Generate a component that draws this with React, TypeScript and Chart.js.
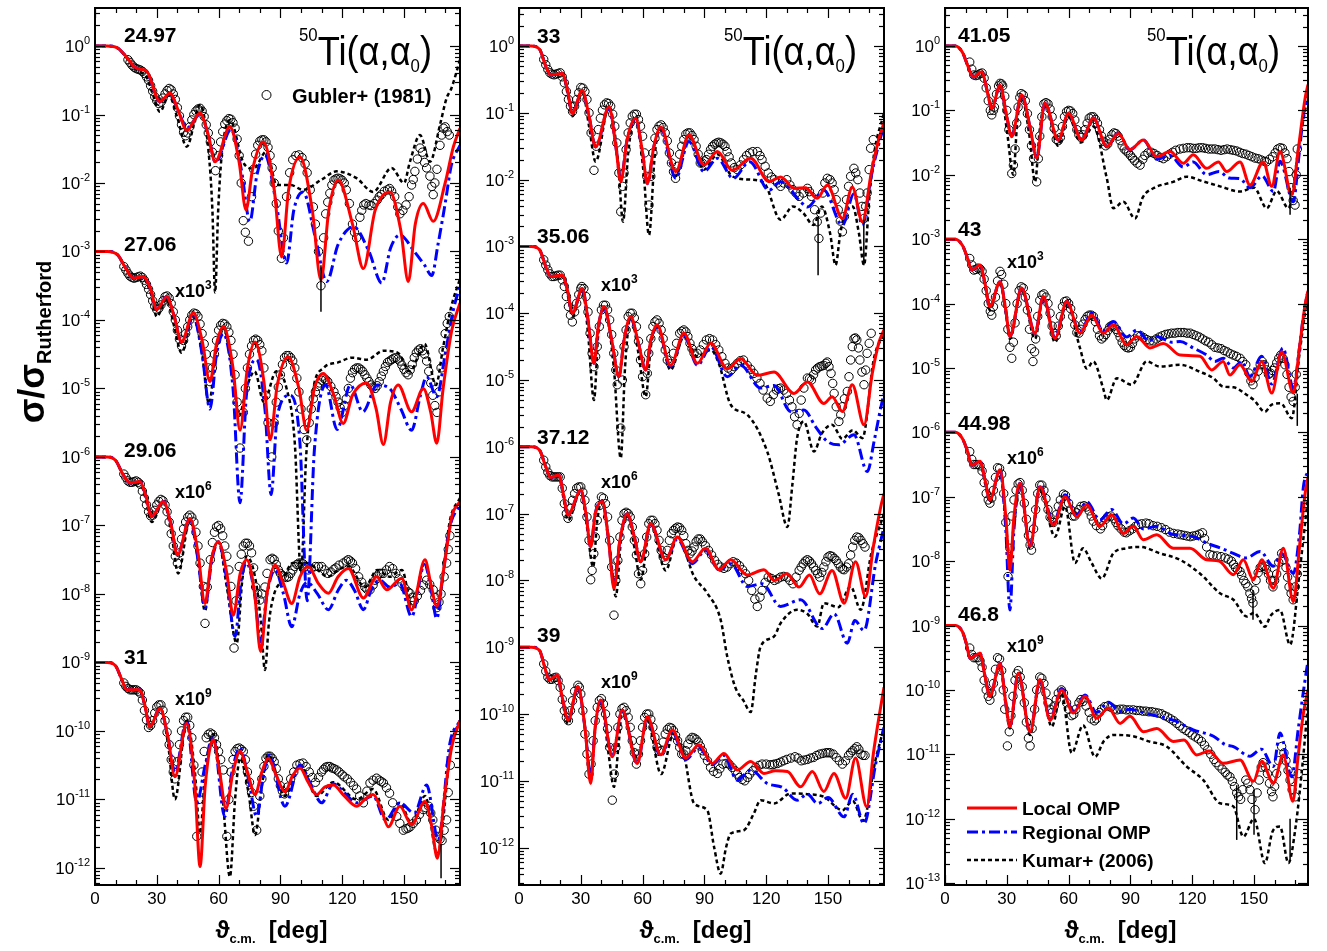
import React, { useEffect, useRef } from "react";
import { Chart, registerables } from "chart.js";

Chart.register(...registerables);

// Each point: [theta_cm in degrees, log10(sigma / sigma_Rutherford)], unshifted.
type Pt = [number, number];
// Error bar: [curve index in panel, theta, log10 low, log10 high]
type Bar = [number, number, number, number];

/* ---------------- 24.97 MeV ---------------- */
const local2497: Pt[] = [[0,0],[6,0],[11,-0.03],[15,-0.15],[19,-0.3],[22,-0.34],[25,-0.36],[31.5,-0.81],[36.4,-0.69],[40.5,-0.95],[44.5,-1.23],[51,-0.98],[55,-1.3],[58.3,-1.69],[65.5,-1.18],[70,-1.7],[73.3,-2.39],[76.5,-1.8],[81.7,-1.4],[87,-2.1],[90.6,-3.08],[94,-2.1],[99.5,-1.62],[105.5,-2.4],[109.7,-3.42],[113.5,-2.4],[118.1,-1.96],[125,-2.6],[130.3,-3.25],[136,-2.4],[143.2,-2.13],[148.5,-2.7],[152.1,-3.44],[155.5,-2.6],[159.4,-2.3],[164.2,-2.56],[170,-2.0],[174,-1.47],[177.2,-1.2]];
const regional2497: Pt[] = [[0,0],[6,0],[11,-0.03],[15,-0.15],[19,-0.3],[22,-0.34],[25,-0.37],[31.5,-0.81],[36.4,-0.7],[40.5,-0.95],[44.5,-1.2],[51,-1.0],[55,-1.3],[58.5,-1.7],[66,-1.22],[71,-1.8],[75.2,-2.56],[78.5,-1.9],[82.5,-1.59],[88,-2.3],[93,-3.17],[96.5,-2.4],[101,-2.13],[107,-2.8],[112.5,-3.44],[118,-2.9],[125.5,-2.64],[133,-3.0],[139.2,-3.46],[143.5,-2.95],[148,-2.76],[155,-3.0],[160,-3.2],[163.5,-3.35],[166.5,-2.9],[170,-2.3],[173,-1.74],[177.2,-1.45]];
const kumar2497: Pt[] = [[0,0],[6,0],[11,-0.03],[15,-0.16],[19,-0.32],[22,-0.38],[25,-0.45],[28,-0.7],[31.5,-0.96],[36,-0.72],[40,-1.05],[44.5,-1.47],[51,-0.86],[55,-1.5],[57,-2.4],[58.3,-3.6],[59.8,-2.4],[61.5,-1.6],[65.5,-1.08],[72,-1.7],[76.9,-1.79],[83.3,-1.54],[88.2,-2.03],[95,-2.03],[101,-2.1],[110,-1.95],[117.3,-1.83],[127,-1.93],[135,-2.13],[144,-1.78],[150,-2.0],[152.9,-1.69],[157.8,-1.3],[162.6,-1.69],[167.5,-1.15],[170.7,-0.76],[173,-0.62],[177.2,-0.2]];
const gubler2497: Pt[] = [[16,-0.2],[17,-0.24],[18,-0.28],[19,-0.31],[20,-0.33],[21,-0.34],[22,-0.35],[23,-0.37],[24,-0.4],[25,-0.45],[26,-0.5],[27,-0.58],[28,-0.66],[29,-0.74],[30,-0.8],[31,-0.84],[32,-0.82],[33,-0.76],[34,-0.7],[35,-0.65],[36,-0.62],[37,-0.64],[38,-0.7],[39,-0.78],[40,-0.9],[41,-1.02],[42,-1.15],[43,-1.26],[44,-1.31],[45,-1.27],[46,-1.18],[47,-1.08],[48,-1.0],[49,-0.95],[50,-0.92],[51,-0.91],[52,-0.95],[53,-1.03],[54,-1.15],[55,-1.27],[56,-1.4],[57,-1.55],[58.5,-1.82],[60,-1.6],[61,-1.4],[62,-1.25],[63,-1.14],[64,-1.09],[65,-1.06],[66,-1.07],[67,-1.12],[68,-1.2],[69,-1.36],[70,-1.6],[71,-2.0],[72,-2.55],[73,-2.72],[74.5,-2.85],[76,-2.2],[77,-1.8],[78,-1.58],[79,-1.45],[80,-1.39],[81,-1.37],[82,-1.37],[83,-1.4],[84,-1.48],[85,-1.6],[86,-1.78],[87,-2.0],[88,-2.3],[89,-2.7],[90.5,-3.1],[91.5,-2.8],[93,-2.2],[94.5,-1.85],[96,-1.66],[97.5,-1.6],[99,-1.59],[100.5,-1.63],[102,-1.72],[103,-1.85],[104.5,-2.1],[106,-2.35],[107,-2.6],[108.5,-3.0],[109.7,-3.5],[111,-2.8],[112,-2.45],[113,-2.28],[114,-2.15],[115,-2.03],[116,-1.96],[117,-1.94],[118,-1.93],[119,-1.94],[120,-1.96],[121,-2.0],[122,-2.1],[123.5,-2.3],[125,-2.6],[126,-2.72],[127,-2.8],[128.6,-2.5],[129.5,-2.4],[130.5,-2.32],[131.5,-2.3],[133,-2.32],[134,-2.33],[135.5,-2.3],[137,-2.25],[138,-2.2],[139,-2.17],[140.5,-2.12],[142,-2.1],[143,-2.08],[144,-2.12],[145.5,-2.2],[147,-2.35],[148,-2.45],[149.5,-2.4],[151,-2.32],[152.5,-2.2],[153.7,-2.03],[154.5,-1.95],[155.3,-1.83],[156.5,-1.65],[157.8,-1.49],[159,-1.55],[160,-1.7],[161,-1.78],[162.6,-1.9],[163.5,-2.05],[164.2,-2.17],[165,-2.0],[166,-1.8],[167.5,-1.45],[168.3,-1.3],[169.1,-1.2],[170,-1.18],[171,-1.25],[172,-1.3]];

/* ---------------- 27.06 MeV ---------------- */
const local2706: Pt[] = [[0,0],[6,0],[11,-0.05],[15,-0.25],[18.6,-0.39],[23.4,-0.37],[27,-0.55],[30,-0.85],[34.8,-0.66],[38.5,-0.95],[42,-1.32],[47.7,-0.9],[52,-1.3],[55.8,-1.9],[59,-1.35],[62.3,-1.1],[67,-1.7],[70.4,-2.61],[74,-1.7],[77.7,-1.32],[82,-1.9],[85,-2.75],[88.5,-1.95],[93.8,-1.54],[99,-2.0],[102.8,-2.61],[106.5,-2.0],[110.8,-1.78],[116,-2.1],[120.5,-2.51],[125,-2.1],[131.9,-1.92],[136.5,-2.3],[140,-2.82],[143.5,-2.2],[147.2,-1.95],[153.7,-2.34],[159.4,-2.0],[163,-2.35],[165.9,-2.8],[169,-2.0],[173.2,-1.15],[177.2,-0.75]];
const regional2706: Pt[] = [[0,0],[6,0],[11,-0.05],[15,-0.25],[18.6,-0.39],[23.4,-0.37],[27,-0.55],[30,-0.85],[34.8,-0.66],[38.5,-0.95],[42,-1.32],[47.7,-0.95],[52,-1.5],[55.8,-2.3],[59,-1.5],[62.3,-1.2],[67,-2.0],[70.4,-3.67],[73.5,-2.1],[78.5,-1.58],[82.5,-2.3],[85.5,-3.55],[88.5,-2.4],[94.7,-2.1],[99.5,-2.8],[103,-5.1],[106.5,-2.9],[112,-1.95],[117.5,-2.6],[124,-1.95],[130,-2.34],[137,-1.95],[143,-2.0],[148.5,-2.3],[153.7,-2.61],[158,-2.1],[161,-1.83],[165.9,-2.12],[170,-1.5],[174,-0.85],[177.2,-0.5]];
const kumar2706: Pt[] = [[0,0],[6,0],[11,-0.05],[15,-0.25],[18.6,-0.39],[23.4,-0.4],[27,-0.6],[30,-0.95],[34.8,-0.7],[38.5,-1.1],[42,-1.48],[47.7,-0.95],[52,-1.5],[55.3,-2.22],[59,-1.4],[62.3,-1.1],[67,-1.8],[70,-2.4],[73.5,-2.0],[77.5,-1.75],[82,-2.2],[88,-1.75],[93,-2.0],[97,-2.8],[100,-4.7],[102.5,-3.0],[106,-2.0],[111,-1.7],[118,-1.62],[125,-1.55],[132,-1.58],[140,-1.45],[147,-1.48],[153,-1.75],[160,-1.35],[165.5,-1.95],[169,-1.4],[173,-0.8],[177.2,-0.4]];
const gubler2706: Pt[] = [[14,-0.22],[15,-0.27],[16,-0.32],[17,-0.36],[18,-0.38],[19,-0.39],[20,-0.38],[21,-0.37],[22,-0.36],[23,-0.38],[24,-0.42],[25,-0.48],[26,-0.55],[27,-0.63],[28,-0.72],[29,-0.8],[30,-0.85],[31,-0.83],[32,-0.78],[33,-0.72],[34,-0.66],[35,-0.65],[36,-0.68],[37,-0.76],[38,-0.88],[39,-1.0],[40,-1.15],[41,-1.28],[42,-1.38],[43,-1.3],[44,-1.2],[45,-1.1],[46,-1.0],[47,-0.93],[48,-0.9],[49,-0.91],[50,-0.95],[51,-1.06],[52,-1.2],[53,-1.35],[54,-1.5],[55,-1.7],[55.8,-1.9],[57,-1.7],[58,-1.5],[59,-1.3],[60,-1.15],[61,-1.08],[62,-1.05],[63,-1.06],[64,-1.1],[65,-1.18],[66,-1.3],[67,-1.5],[68,-1.8],[69,-2.2],[70.4,-2.87],[72,-2.35],[73,-2.0],[74,-1.7],[75,-1.5],[76,-1.38],[77,-1.3],[78,-1.28],[79,-1.3],[80,-1.36],[81,-1.45],[82,-1.7],[83,-2.1],[84,-2.5],[85.8,-3.0],[87,-2.5],[88,-2.2],[89,-1.98],[90,-1.8],[91,-1.65],[92,-1.55],[93,-1.52],[94,-1.52],[95,-1.55],[96,-1.6],[97,-1.7],[98,-1.85],[99,-2.05],[100,-2.3],[101.5,-2.6],[102.8,-2.75],[104,-2.5],[105,-2.3],[106,-2.15],[107,-2.05],[108,-1.97],[109,-1.92],[110,-1.88],[111,-1.85],[112,-1.87],[113,-1.9],[114.5,-1.97],[116,-2.05],[117,-2.12],[118,-2.2],[119,-2.28],[120,-2.35],[121,-2.25],[122,-2.15],[123,-2.0],[124,-1.85],[125,-1.77],[126,-1.72],[127,-1.7],[128,-1.7],[129,-1.72],[130,-1.75],[131,-1.8],[132,-1.85],[133,-1.9],[134,-1.95],[135,-1.98],[136,-2.0],[137,-1.96],[138,-1.9],[139,-1.82],[140,-1.75],[141,-1.68],[142,-1.62],[143,-1.6],[144,-1.58],[145,-1.56],[146,-1.55],[147,-1.57],[148,-1.6],[149,-1.66],[150,-1.72],[151,-1.77],[152,-1.8],[153,-1.73],[154,-1.65],[155,-1.55],[156,-1.48],[157,-1.44],[158,-1.42],[159,-1.45],[160,-1.5],[161,-1.6],[162,-1.75],[163,-1.92],[164,-2.1],[165,-2.25],[166,-2.35],[167,-2.05],[168,-1.7],[169,-1.45],[170,-1.2],[171,-1.05],[172,-0.95]];

/* ---------------- 29.06 MeV ---------------- */
const local2906: Pt[] = [[0,0],[6,0],[10,-0.05],[13.5,-0.25],[17,-0.38],[21.8,-0.36],[24.5,-0.55],[27.5,-0.87],[33.2,-0.65],[37,-1.0],[40,-1.43],[46.1,-0.9],[50,-1.4],[53.4,-2.14],[56.5,-1.5],[59.9,-1.24],[64,-1.7],[67.1,-2.31],[70.5,-1.7],[73.6,-1.5],[77.5,-2.0],[80.4,-2.84],[83.5,-2.0],[87.4,-1.58],[91.5,-1.85],[95.5,-2.14],[99.5,-1.75],[103.5,-1.6],[108.5,-1.85],[113.3,-1.99],[118,-1.75],[123,-1.63],[130.3,-2.06],[136.7,-1.75],[141.6,-1.94],[148.9,-1.77],[153.7,-2.23],[160.2,-1.5],[163,-1.85],[165.9,-2.18],[169.5,-1.6],[173.2,-0.87],[177.2,-0.65]];
const regional2906: Pt[] = [[0,0],[6,0],[10,-0.05],[13.5,-0.25],[17,-0.38],[21.8,-0.36],[24.5,-0.55],[27.5,-0.87],[33.2,-0.65],[37,-1.0],[40,-1.43],[46.1,-0.9],[50,-1.5],[53.4,-2.2],[56.5,-1.55],[59.9,-1.24],[64,-1.8],[68,-2.62],[71,-1.8],[73.6,-1.55],[77.5,-2.0],[80.4,-2.7],[83.5,-2.0],[87.4,-1.65],[91.5,-2.0],[95.5,-2.48],[99.5,-2.0],[103,-1.83],[108,-2.0],[113.3,-2.23],[118,-1.95],[122,-1.8],[126,-1.95],[130.3,-2.23],[134,-1.95],[138.3,-1.8],[143,-1.9],[148,-1.85],[153.7,-2.33],[160,-1.57],[163,-1.9],[165.9,-2.36],[169,-1.7],[172.3,-1.02],[177.2,-0.7]];
const kumar2906: Pt[] = [[0,0],[6,0],[10,-0.05],[13.5,-0.25],[17,-0.38],[21.8,-0.38],[24.5,-0.6],[27.5,-0.95],[33.2,-0.65],[37,-1.1],[40.4,-1.7],[46.1,-0.9],[50,-1.5],[53.4,-2.25],[56.5,-1.5],[59.9,-1.24],[64,-1.9],[68.8,-2.72],[71.5,-1.8],[73.6,-1.45],[78,-1.8],[80.5,-2.4],[82.5,-3.11],[84.5,-2.4],[87,-2.0],[91,-1.8],[96,-1.55],[103,-1.55],[108,-1.65],[113,-1.75],[118,-1.65],[123,-1.6],[131,-1.9],[137,-1.65],[143,-1.75],[149,-1.65],[154,-2.2],[160,-1.55],[166,-2.2],[172.5,-0.9],[177.2,-0.6]];
const gubler2906: Pt[] = [[14,-0.25],[15,-0.3],[16,-0.35],[17,-0.37],[18,-0.37],[19,-0.36],[20,-0.35],[21,-0.37],[22,-0.4],[23,-0.5],[24,-0.6],[25,-0.7],[26,-0.8],[27,-0.86],[28,-0.85],[29,-0.78],[30,-0.7],[31,-0.65],[32,-0.62],[33,-0.64],[34,-0.7],[35,-0.8],[36,-0.95],[37,-1.12],[38,-1.3],[39,-1.45],[40,-1.55],[41,-1.4],[42,-1.2],[43,-1.05],[44,-0.95],[45,-0.88],[46,-0.85],[47,-0.88],[48,-0.95],[49,-1.1],[50,-1.3],[51,-1.55],[52.6,-1.89],[53.4,-2.43],[54.5,-1.9],[56,-1.5],[57,-1.25],[58,-1.1],[59,-1.02],[60,-1.0],[61,-1.05],[62,-1.15],[63,-1.3],[64,-1.45],[65,-1.65],[66,-1.89],[67.5,-2.79],[68.5,-2.1],[70,-1.6],[71,-1.42],[72,-1.3],[73,-1.26],[74,-1.26],[75,-1.3],[76,-1.4],[77,-1.62],[78,-1.9],[79,-2.0],[80,-2.09],[81,-2.0],[82.5,-1.9],[83.5,-1.7],[85,-1.5],[86,-1.48],[87,-1.5],[88,-1.57],[89,-1.65],[90,-1.7],[91,-1.73],[92,-1.75],[93,-1.76],[94,-1.75],[95,-1.7],[96,-1.65],[97,-1.6],[98,-1.57],[99,-1.55],[100,-1.55],[101,-1.56],[102,-1.6],[103.5,-1.65],[105,-1.63],[107,-1.6],[108.5,-1.6],[110,-1.6],[111.5,-1.65],[113,-1.7],[114.5,-1.68],[116,-1.64],[117,-1.62],[118.5,-1.58],[120.5,-1.55],[122,-1.52],[123,-1.5],[124,-1.52],[125,-1.55],[126.5,-1.63],[128,-1.75],[129.5,-1.83],[131,-1.9],[132,-1.93],[133.5,-1.94],[135,-1.87],[136,-1.8],[137,-1.74],[138,-1.7],[139,-1.7],[140,-1.7],[141.5,-1.65],[143,-1.6],[144.5,-1.63],[146,-1.7],[147.5,-1.78],[149,-1.85],[150.5,-1.92],[152,-1.97],[152.9,-1.99],[154,-2.05],[155,-2.1],[156.5,-2.03],[158,-1.95],[159.5,-1.87],[161,-1.8],[162.5,-1.86],[164.2,-1.94],[165,-2.05],[166,-2.2],[167,-2.12],[168,-2.0],[169.5,-1.75],[170.7,-1.55],[171.5,-1.35],[172.3,-1.15]];

/* ---------------- 31 MeV ---------------- */
const local31: Pt[] = [[0,0],[6,0],[10,-0.05],[13,-0.25],[15.4,-0.4],[21.8,-0.4],[24,-0.6],[26.7,-0.94],[31.5,-0.67],[35.5,-1.1],[38.8,-1.67],[44.5,-0.89],[48.5,-1.8],[51,-2.98],[53.5,-1.8],[57.4,-1.13],[60.5,-1.6],[63.6,-2.13],[67,-1.6],[70.4,-1.3],[74,-1.6],[77.7,-1.93],[81,-1.6],[84.1,-1.4],[88,-1.65],[92.2,-1.89],[96,-1.65],[99.5,-1.54],[103.5,-1.75],[107.6,-1.93],[111.5,-1.82],[115.7,-1.79],[121,-1.95],[127,-2.1],[131,-2.0],[135,-1.93],[139,-2.15],[142.4,-2.4],[148,-2.1],[153.7,-2.37],[160.2,-2.03],[163.5,-2.4],[166.2,-2.86],[169.5,-2.0],[173.2,-1.23],[177.2,-0.85]];
const regional31: Pt[] = [[0,0],[6,0],[10,-0.05],[13,-0.25],[15.4,-0.4],[21.8,-0.4],[24,-0.6],[26.7,-0.94],[31.5,-0.67],[35.5,-1.1],[38.8,-1.6],[44.5,-0.85],[49.4,-2.05],[53.5,-1.5],[57.4,-1.1],[63,-2.25],[66.5,-1.6],[70.4,-1.25],[74.5,-1.7],[78.5,-2.25],[81.5,-1.7],[84.5,-1.35],[92.2,-2.1],[99.5,-1.5],[105,-1.8],[110,-2.05],[115.7,-1.77],[121,-1.9],[127,-2.05],[135,-1.95],[141,-2.3],[148,-2.05],[155,-2.2],[161,-1.79],[166.6,-2.59],[172.3,-1.18],[177.2,-0.85]];
const kumar31: Pt[] = [[0,0],[6,0],[10,-0.05],[13,-0.25],[15.4,-0.4],[21.8,-0.42],[24,-0.62],[26.7,-0.95],[31.5,-0.65],[35.5,-1.2],[38.8,-2.0],[44.5,-0.85],[48.5,-1.6],[51,-2.5],[53.5,-1.6],[57.4,-1.05],[62,-2.0],[65.5,-3.13],[68,-2.0],[70.4,-1.4],[74.5,-1.9],[77.7,-2.52],[81,-1.8],[84.1,-1.35],[92.2,-1.95],[99.5,-1.5],[107.6,-1.95],[115.7,-1.75],[127,-2.0],[135,-1.85],[142.4,-2.3],[148,-2.05],[153.7,-2.35],[160.2,-1.95],[166.2,-2.8],[173,-1.2],[177.2,-0.85]];
const gubler31: Pt[] = [[14,-0.3],[15,-0.35],[16,-0.38],[17,-0.4],[18,-0.4],[19,-0.4],[20,-0.4],[21,-0.42],[22,-0.45],[23,-0.55],[24,-0.7],[25,-0.84],[26,-0.95],[27,-0.92],[28,-0.85],[29,-0.74],[30,-0.65],[31,-0.62],[32,-0.62],[33,-0.7],[34,-0.85],[35,-1.02],[36,-1.2],[37,-1.42],[38,-1.6],[38.8,-1.7],[40,-1.45],[41,-1.2],[42,-1.0],[43,-0.85],[44,-0.8],[45,-0.8],[46,-0.92],[47,-1.1],[48,-1.5],[49.4,-2.54],[50.5,-2.0],[52,-1.6],[53,-1.3],[54,-1.1],[55,-1.05],[56,-1.03],[57,-1.05],[58,-1.1],[59,-1.2],[60,-1.3],[61,-1.42],[62.3,-1.57],[64,-2.54],[65,-2.0],[66,-1.6],[67,-1.42],[68,-1.3],[69,-1.26],[70,-1.25],[71,-1.27],[72,-1.3],[73,-1.42],[74,-1.6],[75,-1.75],[76,-1.9],[77,-2.1],[78.5,-2.45],[80,-1.95],[81,-1.7],[82,-1.52],[83,-1.4],[84,-1.37],[85,-1.37],[86,-1.4],[87,-1.45],[88,-1.55],[89,-1.7],[90,-1.8],[91,-1.88],[92,-1.92],[93.5,-1.82],[95,-1.7],[96.5,-1.6],[98,-1.5],[99.5,-1.48],[101,-1.47],[102.5,-1.52],[104,-1.6],[105.5,-1.68],[107,-1.75],[108.5,-1.68],[110,-1.6],[111,-1.56],[112,-1.53],[113,-1.52],[114,-1.52],[115,-1.54],[116,-1.55],[117.3,-1.57],[118.5,-1.6],[120,-1.64],[121,-1.67],[122.5,-1.7],[124,-1.75],[125.5,-1.8],[127,-1.85],[128.5,-1.95],[130.3,-2.05],[132,-1.88],[133.5,-1.76],[135,-1.72],[136.7,-1.69],[138,-1.72],[139,-1.74],[140,-1.76],[141.5,-1.83],[143,-1.91],[144.5,-2.05],[146.5,-2.25],[148,-2.35],[149.7,-2.45],[151,-2.43],[152,-2.42],[153,-2.4],[154.5,-2.35],[156,-2.3],[157.5,-2.22],[159.4,-2.15],[160.5,-2.12],[162,-2.1],[163,-2.2],[164,-2.3],[165.5,-2.45],[166.6,-2.54],[167.5,-2.58],[168.5,-2.6],[169.5,-2.45],[170.7,-2.3],[171.5,-1.9],[172.5,-1.5]];

/* ---------------- 33 MeV ---------------- */
const local33: Pt[] = [[0,0],[6,0],[10,-0.05],[13,-0.3],[15.4,-0.43],[21,-0.41],[23.5,-0.65],[25.9,-1.01],[30.7,-0.66],[34,-1.05],[37.2,-1.51],[43.7,-0.91],[47,-1.5],[49.4,-2.03],[52.5,-1.4],[56.6,-1.08],[60,-1.6],[62.3,-2.06],[65.5,-1.5],[68.8,-1.21],[76.1,-1.88],[82.5,-1.33],[89.8,-1.78],[96.3,-1.58],[103.5,-1.86],[112.5,-1.68],[121.4,-2.03],[127,-1.96],[133.5,-2.13],[139,-2.12],[144.8,-2.28],[149.7,-2.08],[157,-2.58],[161.8,-2.11],[166.7,-2.63],[171,-1.9],[174.8,-1.38],[177.2,-1.15]];
const regional33: Pt[] = [[0,0],[6,0],[10,-0.05],[13,-0.3],[15.4,-0.43],[21,-0.41],[23.5,-0.65],[25.9,-1.01],[30.7,-0.68],[34,-1.05],[37.2,-1.51],[43.7,-0.93],[47,-1.5],[49.4,-2.0],[52.5,-1.4],[56.6,-1.1],[60,-1.6],[62.3,-2.06],[65.5,-1.5],[68.8,-1.23],[76.1,-1.98],[82.5,-1.43],[89.8,-1.88],[96.3,-1.68],[104,-1.98],[112,-1.73],[121.4,-2.16],[127,-2.03],[136.7,-2.33],[140,-2.41],[148,-2.16],[157,-2.68],[162.6,-2.21],[166.7,-2.68],[171,-1.95],[174.8,-1.45],[177.2,-1.2]];
const kumar33: Pt[] = [[0,0],[6,0],[10,-0.05],[13,-0.3],[15.4,-0.43],[21,-0.41],[23.5,-0.7],[25.9,-1.05],[30.7,-0.66],[34,-1.2],[37.2,-1.73],[43.7,-0.9],[48,-1.7],[50.5,-2.63],[53,-1.6],[56.6,-1.05],[60.5,-1.9],[63.1,-2.83],[66,-1.6],[68.8,-1.2],[76,-1.95],[82.5,-1.33],[89.8,-1.85],[96.3,-1.62],[103.5,-1.95],[112.5,-2.0],[119,-2.05],[127,-2.6],[133,-2.4],[138,-2.5],[143,-2.68],[147,-2.4],[151,-2.8],[153.7,-3.28],[156,-2.8],[159,-2.45],[162,-2.4],[165,-2.8],[167.5,-3.28],[170,-2.3],[172.3,-1.63],[177.2,-1.0]];
const gubler33: Pt[] = [[12,-0.2],[13,-0.28],[14,-0.35],[15,-0.4],[16,-0.42],[17,-0.43],[18,-0.42],[19,-0.41],[20,-0.4],[21,-0.46],[22,-0.55],[23,-0.68],[24,-0.8],[25,-0.9],[26,-0.98],[27,-0.9],[28,-0.8],[29,-0.7],[30,-0.62],[31,-0.63],[32,-0.68],[33,-0.8],[34,-1.0],[35,-1.3],[36.4,-1.86],[37.5,-1.5],[38.5,-1.25],[39.5,-1.08],[40.5,-0.96],[41.5,-0.88],[42.5,-0.85],[43.5,-0.86],[44.5,-0.9],[45.5,-1.02],[46.5,-1.2],[47.5,-1.45],[48.5,-1.9],[49.4,-2.48],[50.3,-2.1],[51,-1.9],[52,-1.55],[53,-1.3],[54,-1.15],[55,-1.05],[56,-1.02],[57,-1.02],[58,-1.1],[59,-1.2],[60,-1.35],[61,-1.6],[62,-1.95],[63.1,-2.38],[64,-1.95],[65,-1.6],[66,-1.38],[67,-1.25],[68,-1.2],[69,-1.18],[70,-1.22],[71,-1.3],[72,-1.42],[73,-1.6],[74,-1.75],[75,-1.88],[76,-1.98],[77,-1.8],[78,-1.62],[79,-1.5],[80,-1.4],[81,-1.32],[82,-1.3],[83,-1.3],[84,-1.34],[85,-1.4],[86,-1.5],[87,-1.62],[88,-1.75],[89,-1.75],[90,-1.72],[91,-1.7],[92,-1.62],[93,-1.55],[94,-1.5],[95,-1.47],[96,-1.45],[97,-1.44],[98,-1.45],[99,-1.47],[100,-1.5],[101,-1.58],[102,-1.66],[103,-1.75],[104.5,-1.82],[106,-1.85],[107.5,-1.78],[109,-1.7],[110.5,-1.64],[112,-1.6],[113.5,-1.58],[115.7,-1.58],[117,-1.64],[118,-1.7],[119.5,-1.8],[121,-1.9],[122.5,-1.96],[124,-2.0],[125.5,-2.05],[127,-2.1],[128.5,-2.05],[130,-2.0],[131.5,-2.08],[133,-2.15],[134.5,-2.2],[136,-2.25],[138,-2.2],[140,-2.13],[141,-2.18],[142,-2.25],[143.5,-2.45],[144.8,-2.63],[145.6,-2.88],[146.5,-2.5],[147.5,-2.2],[148.5,-2.05],[149.7,-1.98],[151,-2.0],[152,-2.05],[153,-2.15],[154,-2.3],[155,-2.45],[156,-2.62],[157,-2.78],[158,-2.55],[159,-2.3],[160,-2.1],[161,-1.95],[162.6,-1.83],[163.5,-1.9],[164.5,-2.0],[165.5,-2.2],[166.5,-2.4],[167.5,-2.58],[168.3,-2.4],[169,-2.2],[170,-1.85],[170.7,-1.53],[172,-1.4]];

/* ---------------- 35.06 MeV ---------------- */
const local3506: Pt[] = [[0,0],[6,0],[10,-0.05],[13,-0.3],[15.4,-0.45],[21,-0.43],[23.5,-0.65],[25.9,-1.0],[30.7,-0.63],[33.5,-1.1],[36.4,-1.75],[38.5,-1.2],[41.3,-0.9],[45,-1.4],[48.5,-1.95],[51,-1.4],[54.2,-1.05],[58,-1.45],[61.5,-1.85],[64,-1.4],[67.1,-1.18],[73.6,-1.78],[80.1,-1.3],[86.6,-1.75],[93.1,-1.45],[101.1,-1.83],[107.6,-1.68],[115.7,-1.93],[123.8,-1.88],[133.5,-2.2],[140,-2.03],[148,-2.35],[152,-2.25],[157,-2.47],[161.8,-2.07],[167.5,-2.67],[171.5,-1.9],[174.8,-1.43],[177.2,-1.25]];
const regional3506: Pt[] = [[0,0],[6,0],[10,-0.05],[13,-0.3],[15.4,-0.45],[21,-0.43],[23.5,-0.65],[25.9,-1.0],[30.7,-0.63],[33.5,-1.1],[36.4,-1.75],[38.5,-1.2],[41.3,-0.92],[45,-1.4],[48.5,-1.95],[51,-1.4],[54.2,-1.07],[58,-1.45],[61.5,-1.85],[64,-1.4],[67.1,-1.2],[73.6,-1.8],[80.1,-1.33],[86.6,-1.78],[93.1,-1.5],[101.1,-1.95],[107.6,-1.78],[117.3,-2.12],[123.8,-2.08],[131.9,-2.47],[138.3,-2.45],[144,-2.7],[149.7,-2.92],[155.3,-2.97],[162.6,-2.82],[169.1,-3.37],[172.5,-2.9],[175.6,-2.42],[177.2,-2.2]];
const kumar3506: Pt[] = [[0,0],[6,0],[10,-0.05],[13,-0.3],[15.4,-0.45],[21,-0.43],[23.5,-0.7],[25.9,-1.05],[30.7,-0.63],[33.5,-1.3],[36.4,-2.3],[38.5,-1.3],[41.3,-0.9],[46,-1.8],[49.4,-3.17],[51.5,-1.8],[54.2,-1.05],[58,-1.6],[61.5,-2.25],[64,-1.5],[67.1,-1.2],[73.6,-1.85],[80.1,-1.35],[86.6,-1.65],[93.1,-1.55],[97,-1.75],[102.8,-2.37],[110.8,-2.52],[120.5,-3.07],[126,-3.7],[130.3,-4.2],[132.7,-3.57],[135,-2.87],[138.3,-2.62],[143.2,-3.07],[147,-2.8],[152,-2.67],[157,-2.88],[162,-2.75],[166.7,-2.87],[172.3,-1.68],[177.2,-1.3]];
const gubler3506: Pt[] = [[12,-0.2],[13,-0.28],[14,-0.35],[15,-0.41],[16,-0.45],[17,-0.45],[18,-0.44],[19,-0.43],[20,-0.43],[21,-0.5],[22,-0.6],[23,-0.75],[24,-0.9],[25,-1.03],[25.9,-1.13],[27,-0.98],[28,-0.85],[29,-0.72],[30,-0.63],[30.5,-0.6],[31.5,-0.63],[32.5,-0.75],[33.5,-0.98],[34.5,-1.3],[35.5,-1.6],[36.4,-1.8],[37.2,-1.65],[38,-1.5],[39,-1.2],[40,-0.95],[41,-0.88],[42,-0.88],[43,-0.95],[44,-1.1],[45,-1.32],[46,-1.6],[47,-1.85],[47.7,-2.07],[49.4,-2.72],[50.2,-2.0],[51,-1.5],[52,-1.25],[53,-1.05],[54,-1.0],[55,-1.0],[56,-1.07],[57,-1.2],[58,-1.42],[59,-1.7],[60,-1.95],[61.5,-2.22],[62.3,-1.9],[63,-1.6],[64,-1.38],[65,-1.2],[66,-1.13],[67,-1.1],[68,-1.15],[69,-1.25],[70,-1.38],[71,-1.55],[72,-1.7],[73.5,-1.75],[75,-1.6],[76.5,-1.45],[78,-1.3],[79,-1.27],[80,-1.25],[81,-1.28],[82,-1.35],[83,-1.45],[84,-1.53],[85,-1.6],[86.5,-1.6],[88,-1.55],[89.5,-1.47],[91,-1.4],[92.5,-1.38],[94,-1.4],[95.5,-1.47],[97,-1.55],[98.5,-1.65],[100,-1.75],[101.5,-1.82],[103,-1.85],[104.5,-1.8],[106,-1.75],[107.5,-1.71],[109,-1.7],[110.8,-1.78],[112.5,-1.84],[114,-1.9],[115.5,-1.97],[117,-2.05],[118.5,-2.15],[120.5,-2.27],[122,-2.32],[123.5,-2.22],[125,-2.15],[126,-2.13],[127,-2.12],[128.5,-2.15],[130,-2.2],[131.3,-2.3],[132.5,-2.4],[133.8,-2.55],[135,-2.67],[136,-2.5],[137,-2.3],[138.3,-2.12],[140,-1.97],[141,-1.98],[142,-2.0],[143,-1.92],[144,-1.85],[145,-1.82],[146,-1.8],[147,-1.79],[148,-1.78],[149,-1.75],[149.7,-1.73],[150.5,-1.8],[151.5,-1.9],[152.3,-2.05],[153,-2.2],[154,-2.4],[155.3,-2.62],[156.2,-2.52],[157,-2.4],[158,-2.28],[159.4,-2.17],[160.2,-1.95],[161,-1.7],[161.8,-1.5],[162.6,-1.38],[163.3,-1.37],[164,-1.4],[164.8,-1.52],[165.5,-1.7],[166.5,-1.88],[167.5,-2.07],[168.3,-1.85],[169,-1.6],[170,-1.45],[171,-1.3]];

/* ---------------- 37.12 MeV ---------------- */
const local3712: Pt[] = [[0,0],[6,0],[10,-0.05],[13,-0.3],[15.4,-0.46],[19.4,-0.42],[21.5,-0.7],[23.8,-1.02],[30,-0.65],[32.5,-1.0],[34.8,-1.5],[37,-1.0],[40.4,-0.82],[43.5,-1.4],[46.1,-2.12],[49,-1.4],[52.6,-1.0],[56,-1.35],[59.1,-1.72],[63.9,-1.15],[71.2,-1.69],[76.9,-1.35],[84.1,-1.72],[90.6,-1.52],[97.1,-1.84],[102.8,-1.69],[110.8,-1.92],[118.9,-1.84],[124,-2.0],[130,-1.9],[136,-2.1],[141,-1.92],[146,-2.2],[152,-1.85],[157.8,-2.34],[163.4,-1.72],[168.3,-2.24],[172,-1.5],[175.6,-0.9],[177.2,-0.7]];
const regional3712: Pt[] = [[0,0],[6,0],[10,-0.05],[13,-0.3],[15.4,-0.46],[19.4,-0.42],[21.5,-0.7],[23.8,-1.02],[30,-0.65],[32.5,-1.0],[34.8,-1.5],[37,-1.0],[40.4,-0.82],[43.5,-1.4],[46.1,-2.05],[49,-1.4],[52.6,-1.0],[56,-1.35],[59.1,-1.72],[63.9,-1.15],[71.2,-1.69],[76.9,-1.38],[84.1,-1.75],[90.6,-1.55],[97.1,-1.84],[102.8,-1.75],[110.8,-2.09],[118,-2.05],[127,-2.39],[136.7,-2.29],[147.2,-2.72],[153,-2.5],[159.4,-2.94],[163,-2.6],[167.5,-2.75],[173.2,-1.74],[177.2,-1.2]];
const kumar3712: Pt[] = [[0,0],[6,0],[10,-0.05],[13,-0.3],[15.4,-0.46],[19.4,-0.45],[21.5,-0.75],[23.8,-1.1],[30,-0.65],[33,-1.2],[36,-1.8],[38,-1.1],[40.4,-0.8],[44,-1.5],[47,-2.24],[49.5,-1.4],[52.6,-1.0],[56,-1.5],[59.1,-1.99],[63.9,-1.15],[71.2,-1.85],[76.9,-1.35],[85,-1.94],[91.4,-2.19],[97.9,-2.59],[101.1,-3.14],[105,-3.6],[109,-3.8],[112.5,-3.97],[115,-3.4],[117.3,-2.99],[123.8,-2.84],[127,-2.64],[135,-2.44],[140,-2.5],[144.8,-2.69],[148,-2.34],[155,-2.4],[161,-2.09],[165.9,-2.44],[171,-1.6],[177.2,-1.0]];
const gubler3712: Pt[] = [[12,-0.2],[13,-0.3],[14,-0.38],[15,-0.43],[16,-0.45],[17,-0.45],[18,-0.45],[19,-0.45],[20,-0.45],[21,-0.62],[22,-0.85],[23,-1.0],[23.8,-1.07],[25,-0.92],[26,-0.8],[27,-0.7],[28,-0.62],[29,-0.6],[30,-0.6],[31,-0.68],[32,-0.8],[33,-1.05],[34,-1.4],[34.8,-1.99],[35.5,-1.85],[36.3,-1.6],[37,-1.35],[38,-1.1],[39,-0.88],[40,-0.75],[41,-0.77],[42,-0.85],[43,-1.05],[44,-1.4],[45,-1.8],[46.1,-2.52],[47,-2.0],[48,-1.7],[49,-1.35],[50,-1.1],[51,-1.0],[52,-0.98],[53,-1.0],[54,-1.05],[55,-1.2],[56,-1.4],[57,-1.62],[58,-1.9],[59.1,-2.05],[60,-1.85],[61,-1.6],[62,-1.35],[63,-1.15],[64,-1.1],[65,-1.1],[66,-1.15],[67,-1.25],[68,-1.4],[69,-1.55],[70,-1.65],[71,-1.7],[72,-1.55],[73,-1.4],[74,-1.3],[75,-1.25],[76,-1.22],[77,-1.2],[78,-1.21],[79,-1.25],[80,-1.33],[81,-1.45],[82,-1.55],[83,-1.6],[84,-1.56],[85,-1.5],[86,-1.42],[87,-1.38],[88,-1.38],[89,-1.42],[90.5,-1.48],[92,-1.55],[93.5,-1.62],[95,-1.7],[96.5,-1.76],[98,-1.8],[99.5,-1.82],[101,-1.8],[102.5,-1.75],[104,-1.72],[105.5,-1.74],[107,-1.78],[108.5,-1.84],[110,-1.9],[111.5,-2.0],[113,-2.15],[114.5,-2.28],[115.7,-2.39],[117,-2.25],[118,-2.15],[119.5,-2.03],[121,-1.95],[122.5,-1.97],[124,-2.0],[125.5,-1.98],[127,-1.95],[128.5,-1.94],[130,-1.95],[131.5,-2.0],[133,-2.05],[134.5,-1.95],[136,-1.85],[137,-1.8],[138,-1.75],[139,-1.71],[140,-1.69],[141,-1.71],[142,-1.75],[143,-1.8],[144,-1.85],[145,-1.9],[146,-1.95],[147,-1.88],[148,-1.8],[149,-1.72],[150,-1.65],[151,-1.63],[152,-1.64],[153,-1.67],[154,-1.7],[155,-1.75],[156,-1.8],[157,-1.83],[157.8,-1.84],[159,-1.8],[160,-1.75],[161,-1.62],[162,-1.5],[163,-1.4],[164,-1.35],[165,-1.36],[166,-1.4],[167,-1.45],[168,-1.5]];

/* ---------------- 39 MeV ---------------- */
const local39: Pt[] = [[0,0],[6,0],[10,-0.05],[12.5,-0.3],[14.6,-0.49],[18.6,-0.42],[21,-0.75],[23.8,-1.09],[28.6,-0.59],[32,-1.2],[34.8,-2.04],[37,-1.2],[39.7,-0.79],[45.3,-1.64],[50.1,-0.94],[57.4,-1.74],[62.3,-1.04],[68.8,-1.61],[74.4,-1.24],[80.9,-1.66],[87.4,-1.46],[93.8,-1.74],[99.5,-1.59],[105.9,-1.84],[112.5,-1.71],[118.9,-1.89],[124.5,-1.85],[130.3,-1.86],[136.7,-2.09],[142.4,-1.86],[148,-2.16],[152.9,-1.89],[158.6,-2.26],[163.4,-1.66],[168.8,-2.39],[172,-1.6],[175.6,-0.89],[177.2,-0.6]];
const regional39: Pt[] = [[0,0],[6,0],[10,-0.05],[12.5,-0.3],[14.6,-0.49],[18.6,-0.42],[21,-0.75],[23.8,-1.09],[28.6,-0.59],[32,-1.2],[34.8,-1.95],[37,-1.2],[39.7,-0.8],[45.3,-1.64],[50.1,-0.95],[57.4,-1.74],[62.3,-1.06],[68.8,-1.63],[74.4,-1.28],[80.9,-1.68],[87.4,-1.5],[93.8,-1.76],[99.5,-1.62],[105.9,-1.99],[112.5,-1.84],[120.5,-2.04],[128,-2.1],[135,-2.29],[140,-2.2],[145,-2.34],[150,-2.25],[157.8,-2.54],[162,-2.2],[167.5,-2.64],[173.2,-1.74],[177.2,-1.2]];
const kumar39: Pt[] = [[0,0],[6,0],[10,-0.05],[12.5,-0.3],[14.6,-0.49],[18.6,-0.45],[21,-0.8],[23.8,-1.15],[28.6,-0.59],[32,-1.2],[34.8,-1.9],[37,-1.2],[39.7,-0.79],[43.5,-1.6],[46.1,-2.09],[48.5,-1.4],[50.1,-0.94],[57.4,-1.65],[62.3,-1.1],[69,-1.9],[75,-1.3],[80,-1.6],[85,-2.34],[91.4,-2.44],[94.7,-2.99],[97.9,-3.39],[100.5,-3.0],[102.8,-2.79],[109.2,-2.74],[114,-2.49],[117.3,-2.29],[123.8,-2.34],[131.9,-2.19],[140,-2.2],[148,-2.24],[157,-2.44],[162,-2.3],[167,-2.6],[173,-1.7],[177.2,-1.2]];
const gubler39: Pt[] = [[12,-0.25],[13,-0.36],[14,-0.45],[15,-0.48],[16,-0.48],[17,-0.46],[18,-0.45],[19,-0.5],[20,-0.6],[21,-0.78],[22,-0.95],[23,-1.05],[24,-1.1],[25,-0.95],[26,-0.8],[27,-0.66],[28.6,-0.57],[29.3,-0.6],[30,-0.7],[31,-0.95],[32,-1.3],[33,-1.6],[34,-1.9],[35,-1.75],[36,-1.4],[37,-1.1],[38,-0.9],[39,-0.8],[40,-0.77],[41,-0.85],[42,-1.0],[43,-1.22],[44,-1.5],[45.3,-2.29],[46.2,-1.9],[47,-1.5],[48,-1.2],[49,-1.0],[50,-0.92],[51,-0.9],[52,-0.95],[53,-1.05],[54,-1.2],[55,-1.4],[56,-1.58],[57,-1.75],[58,-1.6],[59,-1.4],[60,-1.2],[61,-1.05],[62,-1.0],[63,-1.0],[64,-1.08],[65,-1.2],[66,-1.35],[67,-1.5],[68,-1.56],[69,-1.55],[70,-1.42],[71,-1.3],[72,-1.23],[73,-1.2],[74,-1.21],[75,-1.25],[76,-1.32],[77,-1.4],[78,-1.5],[79,-1.6],[80,-1.6],[81,-1.55],[82,-1.45],[83,-1.38],[84,-1.35],[85,-1.36],[86,-1.38],[87,-1.42],[88,-1.48],[89,-1.55],[90,-1.62],[91.5,-1.7],[93,-1.8],[94.5,-1.86],[96.3,-1.89],[97.5,-1.82],[99,-1.75],[100.5,-1.74],[102,-1.75],[103.5,-1.8],[105,-1.85],[106,-1.9],[107,-1.95],[108.3,-1.98],[109.6,-2.0],[111,-1.95],[112,-1.9],[113.5,-1.85],[115,-1.8],[116.5,-1.77],[118,-1.75],[120,-1.75],[121.8,-1.76],[123,-1.76],[124,-1.75],[125.5,-1.74],[127,-1.72],[128.5,-1.7],[130,-1.68],[132,-1.66],[134,-1.64],[135.5,-1.66],[137,-1.7],[138.5,-1.69],[140,-1.68],[141.5,-1.66],[143,-1.65],[144.5,-1.62],[146,-1.6],[147.5,-1.59],[149,-1.58],[150,-1.58],[151,-1.58],[152.5,-1.6],[154,-1.65],[155.5,-1.7],[157,-1.75],[158.5,-1.7],[160,-1.62],[161,-1.58],[162,-1.55],[163,-1.52],[164,-1.49],[165,-1.53],[166,-1.6],[167,-1.62],[168,-1.62]];

/* ---------------- 41.05 MeV ---------------- */
const local4105: Pt[] = [[0,0],[5,0],[8.5,-0.1],[11,-0.3],[13.7,-0.48],[17.8,-0.4],[20.5,-0.7],[22.7,-0.97],[26.7,-0.61],[30,-1.1],[32.4,-1.41],[37.2,-0.76],[41.5,-1.3],[44.5,-1.74],[48.5,-0.89],[55,-1.46],[59.9,-1.05],[66.4,-1.46],[72,-1.12],[78.5,-1.56],[84.1,-1.36],[89.8,-1.61],[96.3,-1.46],[102.8,-1.72],[109.2,-1.64],[115.7,-1.82],[120.5,-1.69],[127,-1.9],[132.7,-1.8],[136.7,-1.95],[143.2,-1.8],[148,-2.16],[154.5,-1.8],[158.6,-2.18],[162.6,-1.64],[168.3,-2.31],[171.5,-1.6],[174.8,-0.81],[176.2,-0.6]];
const regional4105: Pt[] = [[0,0],[5,0],[8.5,-0.1],[11,-0.3],[13.7,-0.48],[17.8,-0.4],[20.5,-0.7],[22.7,-0.97],[26.7,-0.61],[30,-1.1],[32.4,-1.41],[37.2,-0.76],[41.5,-1.3],[44.5,-1.74],[48.5,-0.89],[55,-1.46],[59.9,-1.05],[66.4,-1.46],[72,-1.12],[78.5,-1.56],[84.1,-1.36],[89.8,-1.61],[96.3,-1.46],[102.8,-1.76],[109.2,-1.7],[115.7,-1.88],[120.5,-1.8],[127,-2.0],[133,-1.95],[138,-2.05],[143.2,-2.06],[148,-2.2],[154,-2.02],[159.4,-2.26],[162.6,-1.79],[169.1,-2.42],[171.5,-1.8],[174,-1.07],[176.2,-0.75]];
const kumar4105: Pt[] = [[0,0],[5,0],[8.5,-0.1],[11,-0.3],[13.7,-0.48],[17.8,-0.42],[20.5,-0.7],[22.7,-1.0],[26.7,-0.61],[30,-1.3],[33.2,-2.0],[35,-1.2],[37.2,-0.8],[41,-1.4],[43.7,-2.11],[46,-1.3],[48.5,-0.9],[55,-1.55],[59.9,-1.1],[66,-1.5],[72,-1.25],[78.5,-2.05],[81.7,-2.52],[86.6,-2.42],[92.2,-2.68],[96,-2.35],[101.1,-2.21],[110.8,-2.11],[117.3,-2.03],[125,-2.1],[133.5,-2.18],[143.2,-2.26],[150,-2.2],[156.2,-2.52],[161,-2.25],[166.7,-2.52],[172,-1.5],[176.2,-0.75]];
const gubler4105: Pt[] = [[12,-0.25],[13,-0.36],[14,-0.45],[15,-0.46],[16,-0.45],[17,-0.43],[18,-0.42],[19,-0.5],[20,-0.65],[21,-0.85],[22,-1.0],[22.7,-1.07],[23.5,-1.0],[24,-0.95],[25,-0.75],[26,-0.62],[26.7,-0.58],[27.5,-0.59],[28,-0.62],[29,-0.78],[30,-1.0],[31,-1.3],[32.4,-1.98],[33.2,-1.85],[34,-1.6],[34.8,-1.2],[35.5,-0.95],[36.3,-0.8],[37,-0.74],[38,-0.76],[39,-0.85],[40,-1.05],[41,-1.3],[42,-1.55],[43,-1.75],[44.5,-2.11],[45.3,-1.75],[46,-1.4],[47,-1.1],[48,-0.9],[49,-0.88],[50,-0.9],[51,-0.98],[52,-1.1],[53,-1.28],[54,-1.45],[55,-1.47],[56,-1.42],[57,-1.25],[58,-1.1],[59,-1.02],[60,-1.0],[61,-1.01],[62,-1.05],[63,-1.15],[64,-1.3],[65,-1.38],[66,-1.42],[67,-1.38],[68,-1.3],[69,-1.2],[70,-1.12],[71,-1.1],[72,-1.1],[73,-1.14],[74,-1.2],[75,-1.3],[76,-1.4],[77,-1.48],[78,-1.55],[79,-1.52],[80,-1.45],[81,-1.38],[82,-1.35],[83,-1.36],[84,-1.4],[85,-1.47],[86,-1.55],[87,-1.6],[88,-1.63],[89,-1.66],[90,-1.7],[91,-1.74],[92,-1.78],[93.3,-1.82],[94.7,-1.85],[96,-1.76],[97,-1.7],[98.5,-1.66],[100,-1.65],[101.5,-1.67],[103,-1.7],[104.5,-1.73],[106,-1.75],[107.5,-1.72],[109,-1.68],[110.5,-1.65],[112,-1.62],[114,-1.6],[115.7,-1.59],[117.5,-1.58],[119,-1.58],[120.5,-1.59],[122,-1.59],[123.5,-1.58],[125,-1.58],[126.5,-1.59],[128,-1.6],[129.5,-1.6],[131,-1.6],[132.5,-1.61],[134,-1.62],[135.5,-1.61],[137,-1.6],[138.5,-1.61],[140,-1.62],[141.5,-1.63],[143,-1.65],[144.5,-1.67],[146,-1.68],[147.5,-1.7],[149,-1.72],[150.5,-1.74],[152,-1.75],[153.5,-1.77],[155,-1.79],[156,-1.8],[157.5,-1.76],[159,-1.72],[160.3,-1.66],[161.5,-1.6],[162.7,-1.58],[163.8,-1.59],[165,-1.66],[166,-1.75],[167,-1.95],[168,-2.2],[169,-2.4],[169.9,-2.47],[170.5,-2.0],[171,-1.6]];

/* ---------------- 43 MeV ---------------- */
const local43: Pt[] = [[0,0],[5,0],[8.5,-0.1],[11,-0.3],[13,-0.48],[17,-0.4],[19.5,-0.7],[21.8,-1.05],[26.7,-0.66],[29.5,-1.1],[31.5,-1.51],[37.2,-0.76],[43.7,-1.46],[47.7,-0.89],[53.4,-1.54],[59.1,-0.97],[65.5,-1.46],[71.2,-1.18],[76.8,-1.46],[81.7,-1.33],[88.2,-1.64],[93.1,-1.51],[99.5,-1.69],[106,-1.62],[114.1,-1.8],[123.8,-1.82],[129.4,-2.03],[135,-1.9],[138.3,-2.11],[143.2,-1.95],[148.9,-2.21],[153.7,-1.9],[158.6,-2.39],[163.4,-1.75],[169.1,-2.39],[172,-1.7],[174.8,-1.02],[176.2,-0.8]];
const regional43: Pt[] = [[0,0],[5,0],[8.5,-0.1],[11,-0.3],[13,-0.48],[17,-0.4],[19.5,-0.7],[21.8,-1.05],[26.7,-0.66],[29.5,-1.1],[31.5,-1.51],[37.2,-0.76],[43.7,-1.46],[47.7,-0.89],[53.4,-1.52],[59.1,-0.97],[65.5,-1.44],[71.2,-1.15],[76.8,-1.42],[81.7,-1.28],[88.2,-1.52],[93.1,-1.41],[99,-1.58],[102.8,-1.51],[110,-1.6],[114.1,-1.59],[120.5,-1.69],[127,-1.8],[131,-1.9],[135,-1.85],[140,-2.0],[144,-1.9],[148,-2.13],[153.7,-1.82],[158.6,-2.25],[164,-1.69],[169.1,-2.31],[172,-1.7],[174,-1.18],[176.2,-0.8]];
const kumar43: Pt[] = [[0,0],[5,0],[8.5,-0.1],[11,-0.3],[13,-0.48],[17,-0.42],[19.5,-0.75],[21.8,-1.1],[26.7,-0.66],[29.5,-1.15],[31.5,-1.55],[37.2,-0.78],[43.7,-1.55],[47.7,-0.9],[53.4,-1.6],[59.1,-1.0],[65.5,-1.69],[68.8,-2.01],[72,-1.9],[76.8,-2.32],[78.5,-2.5],[83.4,-2.16],[90.6,-2.26],[97.9,-1.9],[104.4,-1.98],[114.1,-1.95],[123.8,-2.06],[130.3,-2.16],[135,-2.29],[140,-2.3],[146.5,-2.42],[150,-2.5],[155.3,-2.68],[158.6,-2.57],[163,-2.55],[168.3,-2.78],[172,-1.8],[176.2,-0.8]];
const gubler43: Pt[] = [[12,-0.3],[13,-0.4],[14,-0.48],[15,-0.47],[16,-0.45],[17,-0.46],[18,-0.5],[19,-0.62],[20,-0.8],[21,-1.0],[22,-1.12],[22.7,-1.18],[23.5,-1.05],[24.5,-0.9],[25.5,-0.65],[26.7,-0.5],[27.5,-0.55],[28.5,-0.7],[29.5,-1.0],[30.5,-1.4],[31.5,-1.68],[32.4,-1.85],[33.2,-1.6],[34,-1.3],[35,-1.0],[36,-0.8],[37,-0.74],[38,-0.76],[39,-0.9],[40,-1.1],[41,-1.4],[42,-1.7],[42.7,-1.9],[43.5,-1.75],[44,-1.55],[45,-1.2],[46,-0.95],[47,-0.87],[48,-0.85],[49,-0.9],[50,-1.0],[51,-1.15],[52,-1.35],[53,-1.46],[54,-1.5],[55,-1.35],[56,-1.2],[57,-1.05],[58,-0.97],[59,-0.96],[60,-1.0],[61,-1.08],[62,-1.2],[63,-1.33],[64,-1.45],[65,-1.46],[66,-1.4],[67,-1.32],[68,-1.25],[69,-1.2],[70,-1.18],[71,-1.18],[72,-1.2],[73,-1.28],[74,-1.4],[75,-1.5],[76,-1.55],[77,-1.52],[78,-1.48],[79,-1.42],[80,-1.36],[81,-1.34],[82,-1.35],[83,-1.4],[84,-1.45],[85,-1.52],[86,-1.6],[87,-1.65],[88,-1.68],[89,-1.69],[90,-1.68],[91,-1.62],[92,-1.55],[93.5,-1.5],[95,-1.5],[96.5,-1.53],[98,-1.56],[99.5,-1.58],[101,-1.58],[102.5,-1.55],[104,-1.52],[105.5,-1.5],[107,-1.48],[108.5,-1.47],[110,-1.46],[111.5,-1.46],[113,-1.45],[114.5,-1.45],[116,-1.45],[117.5,-1.46],[119,-1.46],[120.5,-1.48],[122,-1.5],[123.5,-1.52],[125,-1.55],[126.5,-1.58],[128,-1.6],[129.5,-1.64],[131,-1.68],[132.5,-1.69],[134,-1.7],[135.5,-1.73],[137,-1.75],[138.5,-1.78],[140,-1.8],[141.5,-1.82],[143.2,-1.85],[144.5,-1.9],[146,-1.95],[147.5,-2.08],[148.5,-2.2],[149.5,-2.26],[150.5,-2.15],[152,-2.05],[153,-1.95],[154,-1.9],[155,-1.95],[156,-2.03],[157,-2.1],[158,-2.08],[159,-2.04],[160,-2.0],[161,-1.92],[162,-1.85],[163,-1.8],[164,-1.85],[165,-1.95],[166,-2.1],[167,-2.3],[168,-2.45],[169,-2.52],[170,-2.3],[170.5,-2.1]];

/* ---------------- 44.98 MeV ---------------- */
const local4498: Pt[] = [[0,0],[5,0],[8.5,-0.1],[11,-0.3],[13,-0.51],[17,-0.45],[19.5,-0.75],[21.8,-1.05],[26.7,-0.58],[29.5,-1.3],[31.5,-2.14],[33.5,-1.3],[36.4,-0.79],[41.3,-1.77],[46.1,-0.84],[52.6,-1.44],[58.3,-1.0],[63.9,-1.31],[68.8,-1.13],[75.2,-1.46],[80.9,-1.28],[86.6,-1.57],[91.4,-1.46],[96.3,-1.67],[102.8,-1.59],[110.8,-1.8],[118.9,-1.8],[127,-1.98],[133,-2.0],[140,-2.21],[144.8,-1.98],[149.7,-2.29],[153.7,-1.98],[159.4,-2.42],[164.2,-1.8],[169.1,-2.63],[172,-1.8],[174.8,-0.95],[176.2,-0.7]];
const regional4498: Pt[] = [[0,0],[5,0],[8.5,-0.1],[11,-0.3],[13,-0.51],[17,-0.45],[19.5,-0.75],[21.8,-1.05],[26.7,-0.58],[29.5,-1.5],[31.5,-2.76],[33.5,-1.5],[36.4,-0.79],[41.3,-1.77],[46.1,-0.82],[52.6,-1.4],[58.3,-0.97],[63.9,-1.28],[68.8,-1.08],[75.2,-1.36],[80.9,-1.2],[86.6,-1.42],[91.4,-1.33],[96.3,-1.5],[102.8,-1.46],[110,-1.58],[120.5,-1.62],[127,-1.72],[134,-1.8],[140,-1.88],[146,-1.95],[153,-1.85],[159.4,-2.08],[163.4,-1.88],[169.1,-2.19],[172,-1.6],[174,-0.84],[176.2,-0.6]];
const kumar4498: Pt[] = [[0,0],[5,0],[8.5,-0.1],[11,-0.3],[13,-0.51],[17,-0.47],[19.5,-0.8],[21.8,-1.08],[26.7,-0.58],[29.5,-1.4],[31.5,-2.0],[33.5,-1.4],[36.4,-0.8],[41.3,-1.8],[46.1,-0.9],[53.4,-1.62],[58.3,-1.15],[63.1,-2.03],[67,-1.8],[71.2,-2.03],[76.1,-2.27],[81.7,-1.88],[88,-1.8],[94.7,-1.78],[104.4,-1.88],[114.1,-1.98],[124,-2.2],[133.5,-2.5],[140,-2.6],[146.5,-2.86],[150,-2.8],[155.3,-3.02],[158,-2.85],[162.6,-2.76],[167.5,-3.3],[172,-2.2],[176.2,-1.0]];
const gubler4498: Pt[] = [[12,-0.3],[13,-0.42],[14,-0.5],[15,-0.5],[16,-0.5],[17,-0.52],[18,-0.6],[19,-0.78],[20,-0.95],[21,-1.05],[21.8,-1.1],[22.7,-1.02],[23.5,-0.9],[24.5,-0.7],[25.5,-0.55],[26.5,-0.56],[27.5,-0.65],[28.5,-0.95],[29.5,-1.4],[30.6,-2.24],[31.5,-1.8],[32.5,-1.3],[33.5,-1.05],[34.5,-0.9],[35.5,-0.8],[36.4,-0.78],[37.5,-0.9],[38.5,-1.1],[39.5,-1.35],[40.5,-1.6],[41.3,-1.75],[42,-1.83],[43,-1.5],[44,-1.2],[45,-0.95],[46,-0.82],[47,-0.82],[48,-0.9],[49,-1.03],[50,-1.2],[51,-1.32],[52.6,-1.4],[54,-1.28],[55,-1.15],[56,-1.05],[57.5,-0.96],[58.5,-0.98],[60,-1.1],[61,-1.2],[62,-1.3],[63,-1.3],[64,-1.25],[65,-1.2],[66,-1.15],[67.5,-1.14],[68.5,-1.16],[70,-1.22],[71,-1.3],[72,-1.38],[73.5,-1.45],[75.5,-1.5],[76.5,-1.45],[78,-1.35],[79,-1.31],[80.5,-1.3],[82,-1.34],[83,-1.4],[84,-1.45],[85.5,-1.5],[87,-1.55],[88,-1.56],[89.5,-1.53],[91,-1.5],[92.5,-1.46],[94,-1.43],[95.5,-1.42],[97.6,-1.41],[99,-1.42],[101,-1.45],[103,-1.46],[105,-1.48],[107,-1.51],[109,-1.55],[111,-1.57],[113,-1.58],[114.5,-1.59],[116,-1.6],[117.5,-1.61],[119,-1.62],[120.5,-1.61],[122,-1.6],[123.5,-1.58],[125,-1.56],[126,-1.65],[127,-1.78],[128.6,-1.9],[130,-1.91],[132,-1.92],[134,-1.93],[136,-1.95],[137.5,-1.97],[139,-2.0],[140,-2.05],[141,-2.1],[142,-2.13],[143.2,-2.16],[144,-2.22],[145,-2.3],[146,-2.35],[147,-2.4],[148,-2.5],[148.8,-2.58],[149.5,-2.65],[150.3,-2.45],[151,-2.3],[152,-2.18],[153,-2.1],[154,-2.08],[155.3,-2.08],[156,-2.13],[157,-2.2],[158,-2.3],[159.2,-2.4],[160,-2.3],[161,-2.2],[162,-2.02],[163.4,-1.88],[164.5,-1.98],[165.5,-2.1],[166.3,-2.25],[167,-2.4],[168,-2.5],[169,-2.6],[170,-2.4],[171,-2.2]];

/* ---------------- 46.8 MeV ---------------- */
const local468: Pt[] = [[0,0],[5,0],[8.5,-0.1],[10.5,-0.3],[12.1,-0.51],[17,-0.43],[19.5,-0.8],[21.8,-1.1],[26.7,-0.59],[29.5,-1.2],[31.5,-1.57],[35.6,-0.74],[41.3,-1.65],[46.1,-0.84],[51,-1.47],[56.6,-1.0],[62.3,-1.36],[68,-1.1],[73.6,-1.44],[79.3,-1.28],[85,-1.52],[89.8,-1.41],[96.3,-1.65],[102.8,-1.6],[110.8,-1.8],[116,-1.78],[122.2,-2.01],[128,-1.95],[135,-2.14],[143.2,-2.09],[149.7,-2.42],[153.7,-2.11],[159.4,-2.45],[164.2,-2.01],[168.8,-2.73],[171.5,-2.0],[174,-1.36],[176.2,-1.0]];
const regional468: Pt[] = [[0,0],[5,0],[8.5,-0.1],[10.5,-0.3],[12.1,-0.51],[17,-0.43],[19.5,-0.8],[21.8,-1.1],[26.7,-0.59],[29.5,-1.2],[31.5,-1.57],[35.6,-0.74],[41.3,-1.65],[46.1,-0.84],[51,-1.45],[56.6,-0.98],[62.3,-1.33],[68,-1.08],[73.6,-1.35],[79.3,-1.19],[85,-1.33],[90,-1.3],[94.7,-1.34],[102,-1.4],[110.8,-1.47],[120.5,-1.62],[130.3,-1.72],[136,-1.85],[140,-1.88],[148,-2.03],[153.5,-1.92],[159.4,-2.19],[162.6,-1.67],[168.3,-2.35],[171.5,-1.6],[174.8,-0.84],[176.2,-0.55]];
const kumar468: Pt[] = [[0,0],[5,0],[8.5,-0.1],[10.5,-0.3],[12.1,-0.51],[17,-0.45],[19.5,-0.82],[21.8,-1.12],[26.7,-0.59],[29.5,-1.25],[31.5,-1.6],[35.6,-0.74],[41.3,-1.7],[46.1,-0.88],[51.8,-1.57],[56.6,-1.05],[61.5,-1.98],[67,-1.55],[72.8,-2.04],[77,-1.8],[81.7,-1.7],[91.4,-1.72],[99,-1.8],[107.6,-1.88],[117.3,-2.19],[125.4,-2.4],[133.5,-2.76],[140,-2.81],[144.8,-3.28],[150,-3.0],[155.3,-3.69],[159,-3.2],[162.6,-3.12],[166.7,-3.69],[170,-3.17],[174,-2.0],[176.2,-1.2]];
const gubler468: Pt[] = [[12,-0.35],[13,-0.45],[14,-0.5],[15,-0.5],[16,-0.5],[17,-0.55],[18,-0.65],[19,-0.85],[20,-1.0],[21,-1.1],[21.8,-1.16],[22.7,-1.05],[23.5,-0.9],[24.5,-0.68],[25.5,-0.5],[26.5,-0.52],[27.5,-0.7],[28.3,-1.0],[29,-1.3],[30.3,-1.87],[31.2,-1.65],[32,-1.4],[33,-1.1],[34,-0.85],[34.8,-0.75],[35.6,-0.7],[36.5,-0.8],[37.5,-0.95],[38.5,-1.2],[39.5,-1.5],[40.5,-1.75],[41.3,-1.87],[42.3,-1.6],[43.5,-1.3],[44.5,-1.0],[46,-0.8],[47,-0.82],[48,-0.9],[49,-1.05],[50,-1.2],[51,-1.3],[52,-1.35],[53,-1.25],[54,-1.15],[55,-1.05],[56.5,-1.0],[57.5,-1.05],[59,-1.2],[60,-1.3],[61.5,-1.4],[62.5,-1.38],[63.5,-1.3],[65,-1.2],[66,-1.15],[67,-1.18],[68.5,-1.25],[70,-1.35],[71,-1.45],[72.5,-1.48],[73.5,-1.45],[75,-1.35],[76,-1.3],[77.5,-1.26],[79,-1.25],[80.5,-1.27],[82,-1.3],[83.5,-1.31],[85,-1.3],[86.5,-1.3],[88,-1.31],[89.5,-1.31],[91.4,-1.31],[93,-1.32],[94.5,-1.32],[96,-1.33],[97.5,-1.33],[99,-1.34],[100.5,-1.34],[102,-1.35],[103.5,-1.36],[105,-1.37],[106.5,-1.4],[108,-1.42],[109.5,-1.45],[111,-1.48],[112.5,-1.52],[114,-1.56],[115.5,-1.6],[117,-1.63],[118.5,-1.66],[120,-1.7],[121.5,-1.73],[123,-1.76],[124.5,-1.8],[126,-1.86],[127.5,-1.93],[129,-2.0],[130.5,-2.08],[131.6,-2.13],[133,-2.18],[134.5,-2.23],[136,-2.28],[137,-2.32],[138.3,-2.35],[139.5,-2.42],[140.5,-2.5],[141.6,-2.6],[142.5,-2.66],[143.5,-2.7],[144.5,-2.55],[146,-2.4],[147,-2.45],[148,-2.55],[149,-2.7],[150.5,-2.86],[151.5,-2.6],[152.5,-2.4],[153.5,-2.2],[154.4,-2.13],[155.5,-2.2],[156.5,-2.3],[157.5,-2.45],[158.5,-2.58],[159.2,-2.66],[160,-2.5],[161,-2.3],[162,-2.1],[163.4,-1.88],[164.5,-1.98],[165.5,-2.1],[166.5,-2.25],[167.5,-2.4],[168.5,-2.55],[170,-2.66],[171.5,-2.3]];

/* ---------------- error bars ---------------- */
const barsLeft: Bar[] = [[0, 109.7, -3.88, -3.2], [3, 168, -3.15, -2.65]];
const barsMiddle: Bar[] = [[0, 145.2, -3.43, -2.55], [0, 167.4, -3.28, -2.6]];
const barsRight: Bar[] = [[0, 167.5, -2.62, -2.2], [1, 171, -2.9, -2.4], [2, 149.5, -2.91, -2.45], [3, 141.6, -3.33, -2.48], [3, 150, -3.25, -2.55], [3, 167.5, -3.64, -3.0]];

/* ---------------- labels ---------------- */
const energiesLeft = ["24.97", "27.06", "29.06", "31"];
const energiesMiddle = ["33", "35.06", "37.12", "39"];
const energiesRight = ["41.05", "43", "44.98", "46.8"];
const shiftDecades = [0, 3, 6, 9];
const scaleLabels = ["", "3", "6", "9"];
const xTickLabels = [0, 30, 60, 90, 120, 150];
const legendNames = ["Local OMP", "Regional OMP", "Kumar+ (2006)"];
const dataName = "Gubler+ (1981)";

const FONT = '"Liberation Sans", Arial, Helvetica, sans-serif';
const RED = "#ff0000";
const BLUE = "#0000ff";
const BLACK = "#000000";
const DASH_REGIONAL = [11, 4, 3, 4];
const DASH_KUMAR = [4, 3];

type Curves = { local: Pt[]; regional: Pt[]; kumar: Pt[]; data: Pt[] };
type PanelSpec = {
  key: string;
  left: number;
  width: number;
  padLeft: number;
  padRight: number;
  xMax: number;
  yMinExp: number;
  yMaxExp: number;
  labelMinExp: number;
  energies: string[];
  curves: Curves[];
  bars: Bar[];
  energyDx: number;
  energyDy: number[];
  scaleDx: number;
  scaleDy: number[];
  titleInset: number;
  showYTitle: boolean;
  legend: "data" | "models" | "none";
};

const panels: PanelSpec[] = [
  {
    key: "left", left: 0, width: 478, padLeft: 95, padRight: 18, xMax: 177.2,
    yMinExp: -12.25, yMaxExp: 0.555, labelMinExp: -12, energies: energiesLeft,
    curves: [
      { local: local2497, regional: regional2497, kumar: kumar2497, data: gubler2497 },
      { local: local2706, regional: regional2706, kumar: kumar2706, data: gubler2706 },
      { local: local2906, regional: regional2906, kumar: kumar2906, data: gubler2906 },
      { local: local31, regional: regional31, kumar: kumar31, data: gubler31 },
    ],
    bars: barsLeft, energyDx: 29, energyDy: [-12, -8, -7, -6], scaleDx: 80, scaleDy: [0, 40, 35, 37],
    titleInset: 28, showYTitle: true, legend: "data",
  },
  {
    key: "middle", left: 478, width: 424, padLeft: 41, padRight: 18, xMax: 177.2,
    yMinExp: -12.56, yMaxExp: 0.57, labelMinExp: -12, energies: energiesMiddle,
    curves: [
      { local: local33, regional: regional33, kumar: kumar33, data: gubler33 },
      { local: local3506, regional: regional3506, kumar: kumar3506, data: gubler3506 },
      { local: local3712, regional: regional3712, kumar: kumar3712, data: gubler3712 },
      { local: local39, regional: regional39, kumar: kumar39, data: gubler39 },
    ],
    bars: barsMiddle, energyDx: 18, energyDy: [-11, -11, -10, -13], scaleDx: 82, scaleDy: [0, 39, 35, 35],
    titleInset: 27, showYTitle: false, legend: "none",
  },
  {
    key: "right", left: 902, width: 425, padLeft: 43, padRight: 19, xMax: 176.2,
    yMinExp: -13.03, yMaxExp: 0.59, labelMinExp: -13, energies: energiesRight,
    curves: [
      { local: local4105, regional: regional4105, kumar: kumar4105, data: gubler4105 },
      { local: local43, regional: regional43, kumar: kumar43, data: gubler43 },
      { local: local4498, regional: regional4498, kumar: kumar4498, data: gubler4498 },
      { local: local468, regional: regional468, kumar: kumar468, data: gubler468 },
    ],
    bars: barsRight, energyDx: 13, energyDy: [-11, -11, -10, -12], scaleDx: 62, scaleDy: [0, 23, 26, 20],
    titleInset: 28, showYTitle: false, legend: "models",
  },
];

const toXY = (pts: Pt[], shift: number) => pts.map(([a, l]) => ({ x: a, y: Math.pow(10, l - shift) }));

type Run = { t: string; font: string; dy: number };
function runsWidth(ctx: CanvasRenderingContext2D, runs: Run[]) {
  let w = 0;
  for (const r of runs) { ctx.font = r.font; w += ctx.measureText(r.t).width; }
  return w;
}
function drawRuns(ctx: CanvasRenderingContext2D, runs: Run[], x: number, y: number) {
  let cx = x;
  for (const r of runs) {
    ctx.font = r.font;
    ctx.fillText(r.t, cx, y + r.dy);
    cx += ctx.measureText(r.t).width;
  }
}
function seg(ctx: CanvasRenderingContext2D, x1: number, y1: number, x2: number, y2: number) {
  ctx.beginPath(); ctx.moveTo(x1, y1); ctx.lineTo(x2, y2); ctx.stroke();
}

function decorPlugin(spec: PanelSpec) {
  return {
    id: "panelDecor",
    afterDatasetsDraw(chart: any) {
      const { ctx, chartArea: a, scales } = chart;
      ctx.save();
      ctx.beginPath();
      ctx.rect(a.left, a.top, a.right - a.left, a.bottom - a.top);
      ctx.clip();
      ctx.strokeStyle = BLACK;
      ctx.lineWidth = 1.5;
      for (const [ci, ang, lo, hi] of spec.bars) {
        const sh = shiftDecades[ci];
        const x = scales.x.getPixelForValue(ang);
        seg(ctx, x, scales.y.getPixelForValue(Math.pow(10, lo - sh)), x, scales.y.getPixelForValue(Math.pow(10, hi - sh)));
      }
      ctx.restore();
    },
    afterDraw(chart: any) {
      const { ctx, chartArea: a, scales } = chart;
      const xs = scales.x, ys = scales.y;
      const yAt = (e: number) => ys.getPixelForValue(Math.pow(10, e));
      ctx.save();
      ctx.fillStyle = BLACK;
      ctx.strokeStyle = BLACK;

      // frame
      ctx.lineWidth = 2;
      ctx.strokeRect(a.left, a.top, a.right - a.left, a.bottom - a.top);

      // y ticks (both sides, inward)
      ctx.lineWidth = 1.2;
      for (let e = Math.ceil(spec.yMaxExp); e >= Math.floor(spec.yMinExp); e--) {
        for (let k = 1; k <= 9; k++) {
          const v = e + Math.log10(k);
          if (v < spec.yMinExp || v > spec.yMaxExp) continue;
          const y = Math.round(yAt(v)) + 0.5;
          const len = k === 1 ? 10 : 5;
          seg(ctx, a.left, y, a.left + len, y);
          seg(ctx, a.right, y, a.right - len, y);
        }
      }
      // x ticks (top and bottom, inward)
      for (let d = 0; d <= spec.xMax; d += 10) {
        const x = Math.round(xs.getPixelForValue(d)) + 0.5;
        const len = d % 30 === 0 ? 10 : 5;
        seg(ctx, x, a.bottom, x, a.bottom - len);
        seg(ctx, x, a.top, x, a.top + len);
      }

      // y tick labels 10^n
      ctx.textAlign = "left";
      ctx.textBaseline = "alphabetic";
      for (let e = 0; e >= spec.labelMinExp; e--) {
        const y = yAt(e);
        const runs: Run[] = [
          { t: "10", font: `17px ${FONT}`, dy: 6 },
          { t: String(e), font: `11px ${FONT}`, dy: -2 },
        ];
        const w = runsWidth(ctx, runs);
        drawRuns(ctx, runs, a.left - 5 - w, y);
      }

      // x tick labels
      ctx.textAlign = "center";
      ctx.textBaseline = "middle";
      ctx.font = `17px ${FONT}`;
      for (const t of xTickLabels) ctx.fillText(String(t), xs.getPixelForValue(t), a.bottom + 14);

      // x axis title
      ctx.textAlign = "left";
      ctx.textBaseline = "alphabetic";
      const xt: Run[] = [
        { t: "\u03d1", font: `bold 24px ${FONT}`, dy: 0 },
        { t: "c.m.", font: `bold 13px ${FONT}`, dy: 5 },
        { t: "  [deg]", font: `bold 24px ${FONT}`, dy: 0 },
      ];
      const xtw = runsWidth(ctx, xt);
      drawRuns(ctx, xt, (a.left + a.right) / 2 - xtw / 2 - 6, a.bottom + 53);

      // energy labels and scale factors
      spec.energies.forEach((en, i) => {
        const yd = yAt(-shiftDecades[i]);
        ctx.font = `bold 21px ${FONT}`;
        ctx.fillText(en, a.left + spec.energyDx, yd + spec.energyDy[i] + 7.5);
        if (i > 0) {
          drawRuns(ctx, [
            { t: "x10", font: `bold 18px ${FONT}`, dy: 0 },
            { t: scaleLabels[i], font: `bold 12px ${FONT}`, dy: -8 },
          ], a.left + spec.scaleDx, yd + spec.scaleDy[i] + 6);
        }
      });

      // reaction title
      const title: Run[] = [
        { t: "50", font: `19px ${FONT}`, dy: -24 },
        { t: "Ti(\u03b1,\u03b1", font: `41px ${FONT}`, dy: 0 },
        { t: "0", font: `19px ${FONT}`, dy: 7 },
        { t: ")", font: `41px ${FONT}`, dy: 0 },
      ];
      const tw = runsWidth(ctx, title);
      const target = 133;
      ctx.save();
      ctx.translate(a.right - spec.titleInset - target, a.top + 57);
      ctx.scale(target / tw, 1);
      drawRuns(ctx, title, 0, 0);
      ctx.restore();

      // legends
      if (spec.legend === "data") {
        ctx.lineWidth = 1;
        ctx.beginPath();
        ctx.arc(a.left + 171.5, a.top + 87, 4.5, 0, Math.PI * 2);
        ctx.stroke();
        ctx.font = `bold 20px ${FONT}`;
        ctx.fillText(dataName, a.left + 197, a.top + 95);
      }
      if (spec.legend === "models") {
        const styles = [
          { c: RED, d: [] as number[], w: 3, dy: -77 },
          { c: BLUE, d: DASH_REGIONAL, w: 3, dy: -53 },
          { c: BLACK, d: DASH_KUMAR, w: 2.5, dy: -25 },
        ];
        styles.forEach((s, i) => {
          const y = a.bottom + s.dy;
          ctx.save();
          ctx.strokeStyle = s.c;
          ctx.lineWidth = s.w;
          ctx.setLineDash(s.d);
          seg(ctx, a.left + 22, y, a.left + 72, y);
          ctx.restore();
          ctx.font = `bold 19px ${FONT}`;
          ctx.fillText(legendNames[i], a.left + 77, y + 7);
        });
      }

      // y axis title
      if (spec.showYTitle) {
        const yt: Run[] = [
          { t: "\u03c3/\u03c3", font: `bold 36px ${FONT}`, dy: 0 },
          { t: "Rutherford", font: `bold 20px ${FONT}`, dy: 7 },
        ];
        const w = runsWidth(ctx, yt);
        ctx.save();
        ctx.translate(44, 342);
        ctx.rotate(-Math.PI / 2);
        drawRuns(ctx, yt, -w / 2, 0);
        ctx.restore();
      }
      ctx.restore();
    },
  };
}

function buildDatasets(spec: PanelSpec) {
  const out: any[] = [];
  spec.curves.forEach((c, i) => {
    const sh = shiftDecades[i];
    const en = spec.energies[i];
    out.push({
      label: `Local OMP ${en}`, data: toXY(c.local, sh), borderColor: RED, borderWidth: 3,
      pointRadius: 0, cubicInterpolationMode: "monotone", fill: false, order: 0,
    });
    out.push({
      label: `Regional OMP ${en}`, data: toXY(c.regional, sh), borderColor: BLUE, borderWidth: 3,
      borderDash: DASH_REGIONAL, pointRadius: 0, cubicInterpolationMode: "monotone", fill: false, order: 1,
    });
    out.push({
      label: `Kumar+ (2006) ${en}`, data: toXY(c.kumar, sh), borderColor: BLACK, borderWidth: 2.5,
      borderDash: DASH_KUMAR, pointRadius: 0, cubicInterpolationMode: "monotone", fill: false, order: 2,
    });
    out.push({
      label: `${dataName} ${en}`, data: toXY(c.data, sh), showLine: false, pointRadius: 4.2,
      pointBorderWidth: 1, pointBorderColor: BLACK, pointBackgroundColor: "rgba(255,255,255,0)", order: 3,
    });
  });
  return out;
}

function Panel({ spec }: { spec: PanelSpec }) {
  const ref = useRef<HTMLCanvasElement | null>(null);
  useEffect(() => {
    if (!ref.current) return;
    const chart = new Chart(ref.current, {
      type: "line",
      data: { datasets: buildDatasets(spec) },
      options: {
        animation: false,
        responsive: false,
        devicePixelRatio: 1,
        layout: { padding: { left: spec.padLeft, right: spec.padRight, top: 8, bottom: 66 } },
        plugins: { legend: { display: false }, tooltip: { enabled: false }, title: { display: false } },
        scales: {
          x: { type: "linear", min: 0, max: spec.xMax, display: false },
          y: { type: "logarithmic", min: Math.pow(10, spec.yMinExp), max: Math.pow(10, spec.yMaxExp), display: false },
        },
      },
      plugins: [decorPlugin(spec)],
    } as any);
    return () => chart.destroy();
  }, [spec]);
  return (
    <canvas
      ref={ref}
      width={spec.width}
      height={951}
      style={{ position: "absolute", left: spec.left, top: 0, width: spec.width, height: 951 }}
    />
  );
}

export default function App() {
  return (
    <div style={{ position: "fixed", left: 0, top: 0, width: 1327, height: 951, background: "#ffffff", overflow: "hidden" }}>
      {panels.map((p) => (
        <Panel key={p.key} spec={p} />
      ))}
    </div>
  );
}
